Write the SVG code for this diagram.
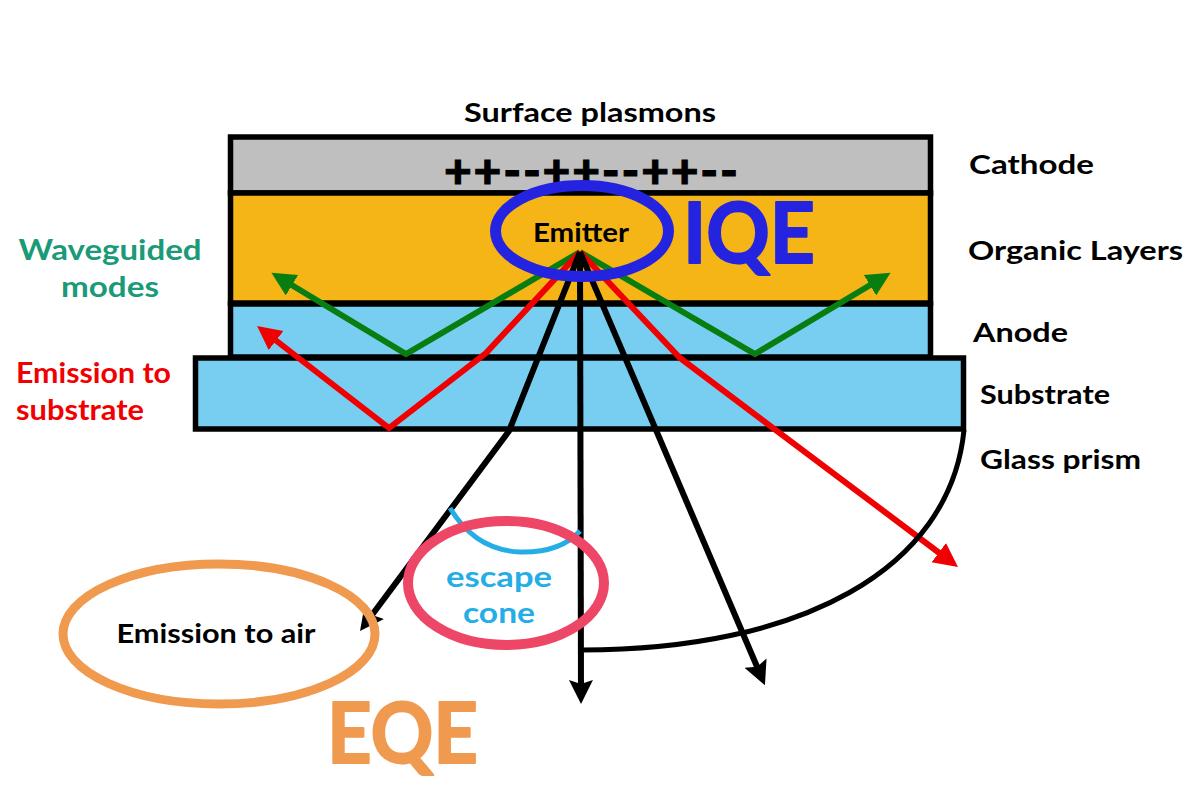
<svg xmlns="http://www.w3.org/2000/svg" width="1200" height="800" viewBox="0 0 1200 800">
<style>
text{font-family:"Lato","Open Sans","Liberation Sans",sans-serif;font-weight:700}
.lb{font-size:27px;fill:#000}
.layer{stroke:#000;stroke-width:5.500}
.k{fill:none;stroke:#000;stroke-width:6}
.r{fill:none;stroke:#f00000;stroke-width:6}
.g{fill:none;stroke:#087d10;stroke-width:6}
</style>
<defs>
<marker id="ah-k" markerUnits="userSpaceOnUse" markerWidth="30" markerHeight="30" refX="14" refY="12" orient="auto"><path d="M0 0L24 12L0 24L4 12Z" fill="#000"/></marker>
<marker id="ah-r" markerUnits="userSpaceOnUse" markerWidth="30" markerHeight="30" refX="14" refY="12" orient="auto"><path d="M0 0L24 12L0 24Z" fill="#f00000"/></marker>
<marker id="ah-g" markerUnits="userSpaceOnUse" markerWidth="30" markerHeight="30" refX="14" refY="12" orient="auto"><path d="M0 0L24 12L0 24Z" fill="#087d10"/></marker>
</defs>
<rect width="1200" height="800" fill="#fff"/>
<g id="layers">
<g id="cathode"><rect class="layer" x="230.500" y="137" width="700" height="56" fill="#bfbfbf"/></g>
<g id="organic"><rect class="layer" x="230.500" y="193" width="700" height="110" fill="#f5b516"/></g>
<g id="anode"><rect class="layer" x="230.500" y="304" width="700" height="53" fill="#78cef0"/></g>
<g id="substrate"><rect class="layer" x="195.500" y="358" width="768" height="71" fill="#78cef0"/></g>
</g>
<text x="590" y="122" class="lb" text-anchor="middle" textLength="252" lengthAdjust="spacingAndGlyphs">Surface plasmons</text>
<text x="444" y="188" style="font-size:48px;font-weight:900;stroke:#000;stroke-width:1" textLength="294" lengthAdjust="spacing">++--++--++--</text>
<g id="connectors">
<path class="g" d="M580 252L406 354L280 278" marker-end="url(#ah-g)"/>
<path class="g" d="M580 252L755 354L882 278" marker-end="url(#ah-g)"/>
<path class="r" d="M580 252L486 353L389 428L265 332" marker-end="url(#ah-r)"/>
<path class="r" d="M580 252L680 358L950 561" marker-end="url(#ah-r)"/>
<path class="k" d="M580 252L509 431L366 623" marker-end="url(#ah-k)"/>
<path class="k" d="M580 252L581 694" marker-end="url(#ah-k)"/>
<path class="k" d="M580 252L761 676" marker-end="url(#ah-k)"/>
<path d="M964 430C950 570 800 650 582 650" fill="none" stroke="#000" stroke-width="5"/>
<path d="M450 508Q475 550 520 552Q560 553 580 531" fill="none" stroke="#25ade6" stroke-width="5"/>
</g>
<g id="emitter">
<ellipse cx="582" cy="231" rx="86.500" ry="45.500" fill="none" stroke="#2424e0" stroke-width="11"/>
<text x="581" y="242" text-anchor="middle" style="font-size:27px" textLength="96" lengthAdjust="spacingAndGlyphs">Emitter</text>
</g>
<text x="683" y="263" style="font-size:84px;fill:#2424e0;stroke:#2424e0;stroke-width:2;stroke-linejoin:round" textLength="132" lengthAdjust="spacingAndGlyphs">IQE</text>
<g id="labels-right">
<text x="969" y="174" class="lb" textLength="125" lengthAdjust="spacingAndGlyphs">Cathode</text>
<text x="968" y="260" class="lb" textLength="215" lengthAdjust="spacingAndGlyphs">Organic Layers</text>
<text x="973" y="342" class="lb" textLength="95" lengthAdjust="spacingAndGlyphs">Anode</text>
<text x="980" y="404" class="lb" textLength="130" lengthAdjust="spacingAndGlyphs">Substrate</text>
<text x="980" y="469" class="lb" textLength="161" lengthAdjust="spacingAndGlyphs">Glass prism</text>
</g>
<g id="waveguided">
<text x="110" y="260" text-anchor="middle" style="font-size:28px;fill:#1b9a78" textLength="183" lengthAdjust="spacingAndGlyphs">Waveguided</text>
<text x="110" y="297" text-anchor="middle" style="font-size:28px;fill:#1b9a78" textLength="98" lengthAdjust="spacingAndGlyphs">modes</text>
</g>
<g id="emission-substrate">
<text x="16" y="383" style="font-size:28px;fill:#f00000" textLength="155" lengthAdjust="spacingAndGlyphs">Emission to</text>
<text x="16" y="420" style="font-size:28px;fill:#f00000" textLength="128" lengthAdjust="spacingAndGlyphs">substrate</text>
</g>
<g id="escape-cone">
<ellipse cx="506" cy="583" rx="98" ry="62" fill="none" stroke="#ee4666" stroke-width="10"/>
<text x="499" y="587" text-anchor="middle" style="font-size:28px;fill:#25ade6" textLength="106" lengthAdjust="spacingAndGlyphs">escape</text>
<text x="499" y="623" text-anchor="middle" style="font-size:28px;fill:#25ade6" textLength="72" lengthAdjust="spacingAndGlyphs">cone</text>
</g>
<g id="emission-air">
<ellipse cx="219" cy="634" rx="156" ry="70" fill="none" stroke="#f09a50" stroke-width="9"/>
<text x="216" y="643" text-anchor="middle" style="font-size:27px" textLength="199" lengthAdjust="spacingAndGlyphs">Emission to air</text>
</g>
<text x="327" y="763" style="font-size:84px;fill:#f09a50;stroke:#f09a50;stroke-width:2;stroke-linejoin:round" textLength="151" lengthAdjust="spacingAndGlyphs">EQE</text>
</svg>
